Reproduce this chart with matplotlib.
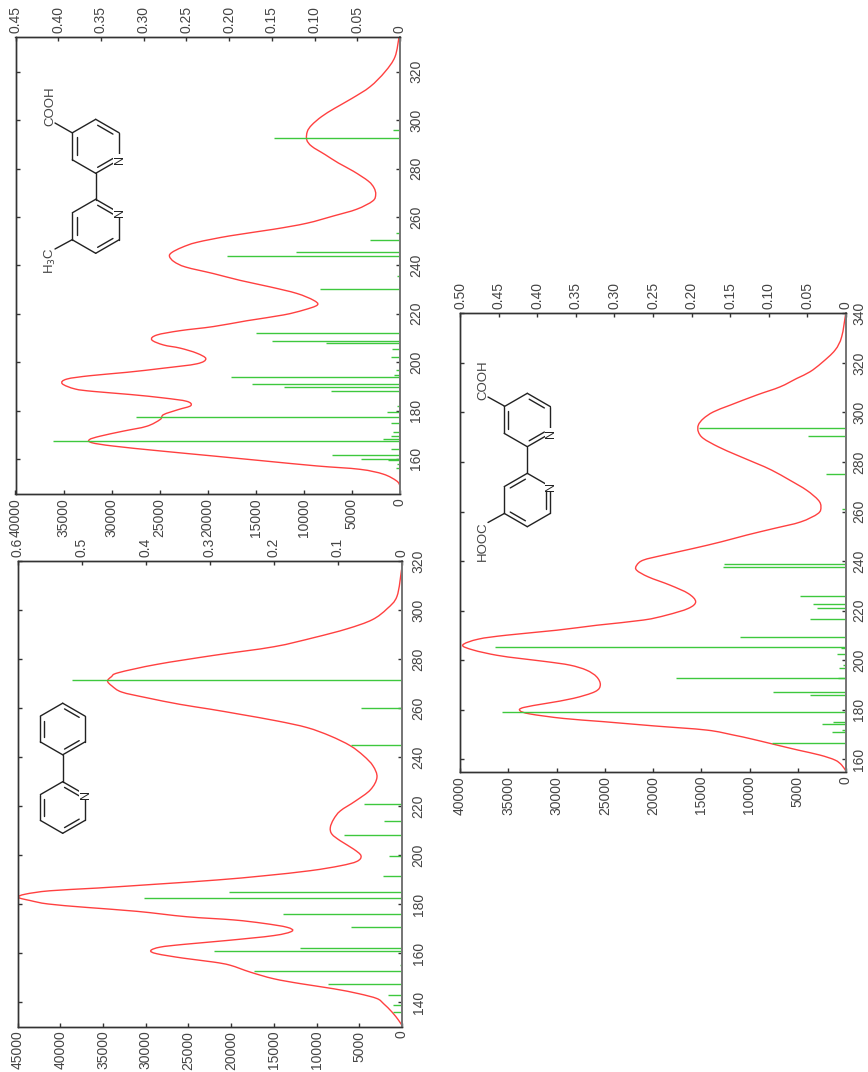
import math
import matplotlib
matplotlib.use("Agg")
import matplotlib.pyplot as plt
from matplotlib.path import Path
from matplotlib.patches import PathPatch

W, H = 868, 1072

# panel A: 2-phenylpyridine
a_wl = [316.5, 305.6, 300.5, 296, 292.3, 288.7, 285, 281.5, 277.8, 274.4, 272.8, 271, 269, 266.5, 264.2,
        261.5, 259.5, 257.4, 254.7, 252, 248.6, 244.6, 240.5, 236.4, 231.7, 226.6, 222, 218, 214.6, 211.2,
        208.5, 205.8, 202.4, 199.7, 197.4, 195.6, 193.6, 191.5, 189.8, 188.1, 186.5, 185.4, 184, 182.7,
        181.4, 180, 178.6, 177, 174.8, 173.5, 172.1, 170.5, 168.9, 167.1, 165.1, 163.5, 162.4, 161, 159.7,
        157.9, 156.3, 155, 152.2, 149.5, 147.5, 145.4, 143.4, 141.4, 139.3, 135.9, 132.5, 130.4]
a_eps = [50, 585, 1750, 3500, 6440, 10340, 15000, 22000, 28700, 33200, 34000, 34460, 33950, 32800, 29900,
         26000, 22400, 18900, 14600, 11100, 8400, 6050, 4500, 3400, 2930, 3700, 5460, 7220, 8000, 8390,
         8200, 7220, 5660, 4800, 5270, 7220, 10730, 16200, 21660, 28700, 35700, 41200, 44100, 44900,
         43500, 41400, 36900, 31000, 25200, 19700, 16200, 13460, 12880, 15030, 20500, 25600, 28300, 29400,
         28700, 25600, 22050, 20100, 17760, 15030, 11900, 8000, 5070, 2930, 2150, 1170, 390, 0]
a_stick_wl = [271.3, 269, 259.8, 244.8, 241.6, 220.7, 213.9, 208.1, 199.7, 191.3, 185, 182.4, 175.8, 170.6,
              162, 160.8, 155, 152.7, 147.3, 143, 138.9, 135.9]
a_stick_f = [0.515, 0.001, 0.0634, 0.0796, 0.001, 0.0588, 0.028, 0.091, 0.0208, 0.0296, 0.27, 0.403, 0.186,
             0.0796, 0.1587, 0.293, 0.0036, 0.231, 0.115, 0.0224, 0.014, 0.014]

# panel B: 4-methyl-bipyridine acid
b_wl = [334.4, 326.2, 320, 313.8, 309, 304.9, 301.5, 298, 295.3, 291.9, 289.2, 285.8, 282.3, 278.9, 274.8,
        272, 269.3, 266.6, 263.2, 260.4, 257.4, 254.9, 252.2, 249.5, 247.4, 245.3, 243.7, 241.5, 239.3,
        236.6, 233.8, 231.1, 228.4, 225.6, 223.6, 221.5, 219.5, 217.1, 214.7, 213, 211.2, 209.2, 207.1,
        205.8, 203.7, 201.4, 199.3, 197.5, 195.8, 194.4, 193, 191.1, 188.9, 187.9, 186.6, 185.2, 183.8,
        182, 180.4, 178.3, 176.3, 173.5, 171.5, 169.4, 168, 166.7, 165.3, 163.3, 161.2, 159.2, 157.1,
        155.7, 153.7, 150.9, 148.9]
b_eps = [100, 520, 1560, 3120, 5000, 6800, 8150, 9180, 9640, 9700, 9180, 7800, 6410, 4850, 3290,
         2700, 2530, 2840, 4500, 6930, 9700, 13170, 17680, 21140, 22700, 23740, 23980, 23500, 22300,
         19410, 16640, 13520, 10740, 9010, 8600, 10050, 12130, 15940, 19410, 22880, 25300, 25820, 24610,
         22880, 21140, 20200, 21140, 24610, 28400, 32230, 34660, 35140, 33800, 31900, 28000, 24600, 22180,
         21770, 23050, 24600, 24950, 26340, 28770, 31200, 32300, 32060, 29800, 24950, 19410, 14210, 8660,
         4160, 1730, 350, 0]
b_stick_wl = [296, 292.6, 279.6, 262, 253.3, 250.5, 245.5, 243.7, 235.5, 230.1, 212.2, 208.8, 208.1, 205.3,
              202.3, 196.8, 194.5, 193.8, 191, 189.7, 188, 182, 179.5, 177.3, 174.7, 171, 169.5, 168.4,
              167.6, 164.2, 161.6, 160.1, 159.7, 158, 156.4]
b_stick_f = [0.0086, 0.147, 0.001, 0.001, 0.005, 0.035, 0.122, 0.202, 0.003, 0.0936, 0.169, 0.15, 0.087, 0.0098,
             0.0105, 0.0047, 0.0066, 0.198, 0.173, 0.136, 0.081, 0.003, 0.0156, 0.309, 0.0105, 0.0086, 0.011, 0.02,
             0.4056, 0.011, 0.08, 0.0456, 0.0137, 0.004, 0.0047]

# panel C: dicarboxylic acid
c_wl = [339.9, 330.5, 325.1, 320, 316.4, 313.7, 310.3, 307, 302.9, 300.2, 297.5, 294.9, 292.2, 289.5, 286.1,
        282.8, 279.4, 276.7, 272.6, 268.6, 264.6, 261.9, 259.2, 255.8, 253.1, 250.5, 247.8, 245.1, 242.4,
        240.4, 238.3, 236.3, 233.6, 230.3, 226.9, 223.6, 220.9, 218.2, 216.2, 214.1, 212.1, 210.1, 208.5,
        206.1, 204.1, 202, 200.7, 199.4, 198, 196, 193.3, 190, 187.3, 184.6, 182.6, 180.9, 179.6, 178.3,
        176.5, 175.2, 173.5, 171.8, 169.8, 168.2, 166.1, 163.7, 161.7, 159.7, 157.7, 155.2]
c_eps = [30, 450, 1140, 2520, 3730, 5110, 6840, 9260, 12020, 13750, 14780, 15300, 15300, 14780, 13230,
         11330, 9260, 7700, 5800, 4080, 2870, 2600, 2900, 4700, 7530, 10290, 12900, 15820, 18930,
         21000, 21690, 21690, 20480, 18240, 16340, 15580, 16340, 18580, 21000, 25840, 29980, 35160, 38100,
         39720, 38620, 36200, 33780, 31020, 28600, 26900, 25840, 25460, 26010, 28250, 31020, 33430, 33780, 32740,
         29290, 25150, 19960, 14440, 11670, 9770, 7530, 4940, 2690, 1140, 450, 0]
c_stick_wl = [293.8, 290.4, 275, 265.2, 264.2, 261.2, 238.8, 237.8, 226.1, 222.5, 221.1, 216.7, 209.4, 205.4,
              205, 202.4, 198, 196.7, 193, 192.8, 187, 185.8, 179.2, 174.9, 174.1, 172, 170.9, 169.1, 166.4]
c_stick_f = [0.191, 0.0497, 0.0263, 0.0017, 0.0017, 0.0047, 0.158, 0.159, 0.059, 0.0427, 0.038, 0.0466, 0.137, 0.4547,
             0.007, 0.012, 0.0035, 0.0086, 0.22, 0.01, 0.094, 0.0466, 0.445, 0.0164, 0.0315, 0.0056, 0.0186, 0.0013, 0.0963]

a_wl_ticks = [140, 160, 180, 200, 220, 240, 260, 280, 300, 320]
b_wl_ticks = [160, 180, 200, 220, 240, 260, 280, 300, 320]
c_wl_ticks = [160, 180, 200, 220, 240, 260, 280, 300, 320, 340]
a_eps_ticks = [0, 5000, 10000, 15000, 20000, 25000, 30000, 35000, 40000, 45000]
bc_eps_ticks = [0, 5000, 10000, 15000, 20000, 25000, 30000, 35000, 40000]
a_f_labels = ["0", "0.1", "0.2", "0.3", "0.4", "0.5", "0.6"]
b_f_labels = ["0", "0.05", "0.10", "0.15", "0.20", "0.25", "0.30", "0.35", "0.40", "0.45"]
c_f_labels = ["0", "0.05", "0.10", "0.15", "0.20", "0.25", "0.30", "0.35", "0.40", "0.45", "0.50"]

RED = "#ff4040"
GREEN = "#3ec83e"
TXT = "#444444"
plt.rcParams["font.family"] = ["Liberation Sans", "DejaVu Sans"]
plt.rcParams["font.size"] = 10

fig = plt.figure(figsize=(W / 100, H / 100), dpi=100)


def smooth_curve(ax, xs, ys):
    # the read points joined by a Catmull-Rom bezier, so the peaks stay round
    pts = list(zip(xs, ys))
    verts_, codes = [pts[0]], [Path.MOVETO]
    for i in range(len(pts) - 1):
        p0, p1, p2, p3 = pts[max(i - 1, 0)], pts[i], pts[i + 1], pts[min(i + 2, len(pts) - 1)]
        c1 = (p1[0] + (p2[0] - p0[0]) / 6, p1[1] + (p2[1] - p0[1]) / 6)
        c2 = (p2[0] - (p3[0] - p1[0]) / 6, p2[1] - (p3[1] - p1[1]) / 6)
        verts_ += [c1, c2, p2]
        codes += [Path.CURVE4] * 3
    ax.add_patch(PathPatch(Path(verts_, codes), facecolor="none", edgecolor=RED, lw=1))


def panel(box, wl, eps, st_wl, st_f, wl_ticks, wl_lim, eps_ticks, eps_max, f_labels, f_max, wl_pad):
    left, top, right, bottom = box
    ax = fig.add_axes([left / W, 1 - bottom / H, (right - left) / W, (bottom - top) / H])
    smooth_curve(ax, eps, wl)
    ax.set_xlim(eps_max, 0)
    ax.set_ylim(*wl_lim)
    ax.set_xticks(eps_ticks)
    ax.set_xticklabels([str(t) for t in eps_ticks], rotation=90, va="top", ha="center", color=TXT)
    ax.set_yticks(wl_ticks)
    ax.set_yticklabels([str(t) for t in wl_ticks], rotation=90, va="center", ha="left", color=TXT)
    ax.yaxis.tick_right()
    ax.tick_params(axis="x", direction="in", length=3, width=1, pad=3, color="#333333")
    ax.tick_params(axis="y", direction="in", length=3, width=1, pad=wl_pad, left=True, right=True, color="#333333")

    tw = ax.twiny()
    tw.hlines(st_wl, 0, st_f, color=GREEN, lw=1)
    tw.set_xlim(f_max, 0)
    f_ticks = [float(s) for s in f_labels]
    tw.set_xticks(f_ticks)
    tw.set_xticklabels(f_labels, rotation=90, va="bottom", ha="center", color=TXT)
    tw.tick_params(axis="x", direction="in", length=3, width=1, pad=3, color="#333333")

    for a in (ax, tw):
        for side in ("left", "top", "bottom"):
            a.spines[side].set_color("#333333")
            a.spines[side].set_linewidth(1)
        a.spines["right"].set_color("#777777")
        a.spines["right"].set_linewidth(1.4)


panel((17.5, 561, 402, 1026.5), a_wl, a_eps, a_stick_wl, a_stick_f, a_wl_ticks, (130, 320),
      a_eps_ticks, 45000, a_f_labels, 0.6, 7)
panel((15.5, 36.7, 400, 494), b_wl, b_eps, b_stick_wl, b_stick_f, b_wl_ticks, (145.5, 334.5),
      bc_eps_ticks, 40000, b_f_labels, 0.45, 6.5)
panel((460, 313.3, 846, 771.7), c_wl, c_eps, c_stick_wl, c_stick_f, c_wl_ticks, (155, 340),
      bc_eps_ticks, 40000, c_f_labels, 0.5, 4.5)

# structures, in pixel coordinates
mol = fig.add_axes([0, 0, 1, 1], facecolor="none")
mol.set_xlim(0, W)
mol.set_ylim(H, 0)
mol.axis("off")
INK = "#222222"


def verts(cx, cy, r):
    # top, then clockwise
    return [(cx + r * math.sin(math.radians(60 * i)), cy - r * math.cos(math.radians(60 * i))) for i in range(6)]


def bond(p, q):
    mol.plot([p[0], q[0]], [p[1], q[1]], color=INK, lw=1, solid_capstyle="round")


def ring(cx, cy, r, doubles=(0, 2, 4), n=None):
    v = verts(cx, cy, r)
    for i in range(6):
        bond(v[i], v[(i + 1) % 6])
    for i in doubles:
        p, q = v[i], v[(i + 1) % 6]
        p2 = (cx + (p[0] - cx) * 0.82, cy + (p[1] - cy) * 0.82)
        q2 = (cx + (q[0] - cx) * 0.82, cy + (q[1] - cy) * 0.82)
        mx, my = (p2[0] + q2[0]) / 2, (p2[1] + q2[1]) / 2
        p3 = (mx + (p2[0] - mx) * 0.8, my + (p2[1] - my) * 0.8)
        q3 = (mx + (q2[0] - mx) * 0.8, my + (q2[1] - my) * 0.8)
        bond(p3, q3)
    if n is not None:
        mol.text(v[n][0] + 1, v[n][1], "N", rotation=90, ha="center", va="center", color=INK, fontsize=9,
                 bbox=dict(facecolor="white", edgecolor="none", pad=0.6))


# phenylpyridine
ring(62.7, 729, 25.8)
bond((62.7, 754.8), (62.7, 781.7))
ring(62.7, 807.5, 25.8, n=1)

# methyl / COOH bipyridine
ring(95.7, 146.3, 27, n=2)
bond((95.7, 173.3), (95.7, 199.5))
ring(95.7, 226.3, 27, n=1)
bond((72.5, 133), (55, 123))
bond((72.5, 239.5), (55, 249))
mol.text(50, 106, "COOH", rotation=90, ha="center", va="center", color=TXT, fontsize=9.5)
mol.text(50, 261, "H$_3$C", rotation=90, ha="center", va="center", color=TXT, fontsize=9.5)

# dicarboxylic bipyridine
ring(527.3, 420, 26.7, n=2)
bond((527.3, 446.7), (527.3, 473.3))
ring(527.3, 500, 26.7, doubles=(5, 1, 3), n=1)
bond((504.3, 406), (488, 397))
bond((504.3, 513.5), (488, 522.5))
mol.text(483, 380, "COOH", rotation=90, ha="center", va="center", color=TXT, fontsize=9.5)
mol.text(483, 541, "HOOC", rotation=90, ha="center", va="center", color=TXT, fontsize=9.5)

fig.savefig("out.png", dpi=100, facecolor="white")
